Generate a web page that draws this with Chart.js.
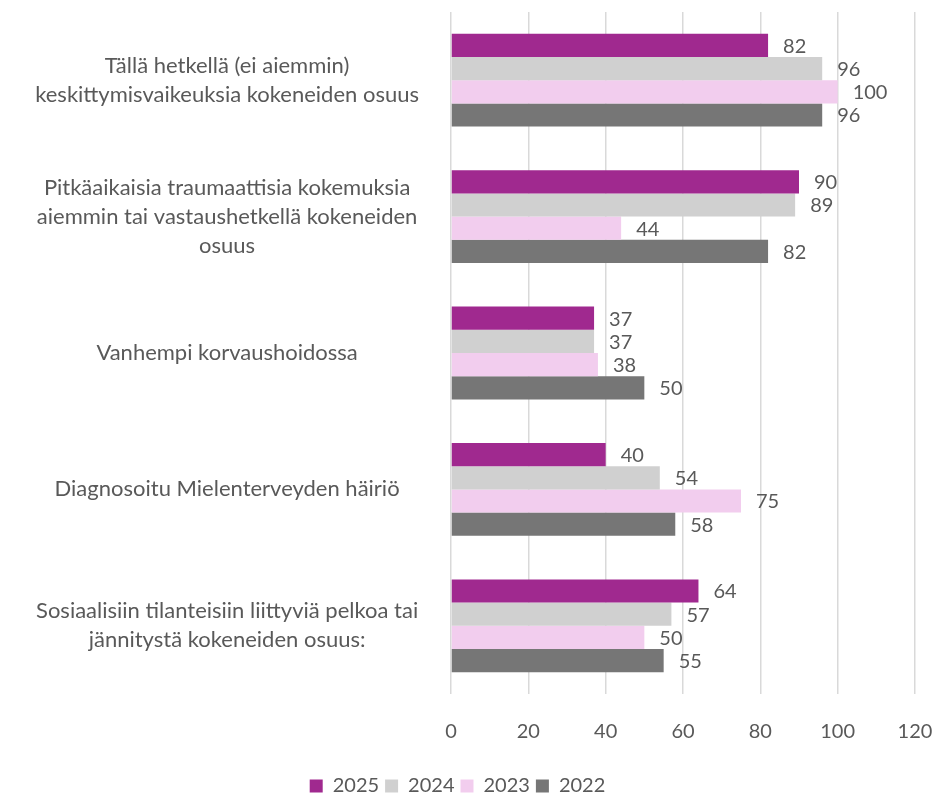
<!DOCTYPE html>
<html>
<head>
<meta charset="utf-8">
<script src="https://cdn.jsdelivr.net/npm/chart.js@4/dist/chart.umd.min.js"></script>
<style>
  html, body { margin: 0; padding: 0; background: #fff; }
  #wrap { width: 935px; height: 800px; }
</style>
</head>
<body>
<div id="wrap"><canvas id="barChart"></canvas></div>
<script>
var categories = [
    ['Tällä hetkellä (ei aiemmin)', 'keskittymisvaikeuksia kokeneiden osuus'],
    ['Pitkäaikaisia traumaattisia kokemuksia', 'aiemmin tai vastaushetkellä kokeneiden', 'osuus'],
    'Vanhempi korvaushoidossa',
    'Diagnosoitu Mielenterveyden häiriö',
    ['Sosiaalisiin tilanteisiin liittyviä pelkoa tai', 'jännitystä kokeneiden osuus:']
];
var years = ['2025', '2024', '2023', '2022'];
var values2025 = [82, 90, 37, 40, 64];
var values2024 = [96, 89, 37, 54, 57];
var values2023 = [100, 44, 38, 75, 50];
var values2022 = [96, 82, 50, 58, 55];
var colours = ['#a0298f', '#d0d0d0', '#f2cdee', '#767676'];

var textColour = '#595959';
var fontFamily = 'Lato, "Open Sans", sans-serif';

// simple value labels to the right of each bar
var valueLabels = {
    id: 'valueLabels',
    afterDatasetsDraw: function(chart) {
        var ctx = chart.ctx;
        ctx.save();
        ctx.font = '20px ' + fontFamily;
        ctx.fillStyle = textColour;
        ctx.textAlign = 'left';
        ctx.textBaseline = 'middle';
        chart.data.datasets.forEach(function(ds, i) {
            var meta = chart.getDatasetMeta(i);
            meta.data.forEach(function(bar, j) {
                ctx.fillText(ds.data[j], bar.x + 15, bar.y + 1);
            });
        });
        ctx.restore();
    }
};

var allValues = [values2025, values2024, values2023, values2022];
var chartData = [];
for (var i = 0; i < years.length; i++) {
    chartData.push({
        label: years[i],
        data: allValues[i],
        backgroundColor: colours[i],
        borderWidth: 0,
        categoryPercentage: 0.68,
        barPercentage: 1.0
    });
}

var ctx = document.getElementById('barChart');
var myChart = new Chart(ctx, {
    type: 'bar',
    data: {
        labels: categories,
        datasets: chartData
    },
    options: {
        indexAxis: 'y',
        responsive: true,
        maintainAspectRatio: false,
        animation: false,
        layout: { padding: { top: 12, right: 20, left: 0, bottom: -6 } },
        scales: {
            x: {
                min: 0,
                max: 120,
                ticks: {
                    stepSize: 20,
                    padding: 26,
                    color: textColour,
                    font: { family: fontFamily, size: 20 }
                },
                grid: { color: '#d9d9d9', lineWidth: 1.5, drawTicks: false },
                border: { display: false },
                afterFit: function(scale) {
                    scale.paddingLeft = 0;
                    scale.paddingRight = 0;
                }
            },
            y: {
                ticks: {
                    crossAlign: 'center',
                    padding: 24,
                    color: textColour,
                    font: { family: fontFamily, size: 22, lineHeight: 1.32 }
                },
                grid: { display: false },
                border: { display: false },
                afterFit: function(scale) {
                    scale.width = 451;
                    scale.paddingTop = 0;
                    scale.paddingBottom = 0;
                }
            }
        },
        plugins: {
            legend: {
                position: 'bottom',
                labels: {
                    boxWidth: 13,
                    boxHeight: 13,
                    padding: 6,
                    color: textColour,
                    font: { family: fontFamily, size: 20 }
                }
            },
            tooltip: { enabled: false }
        }
    },
    plugins: [valueLabels]
});
</script>
</body>
</html>
